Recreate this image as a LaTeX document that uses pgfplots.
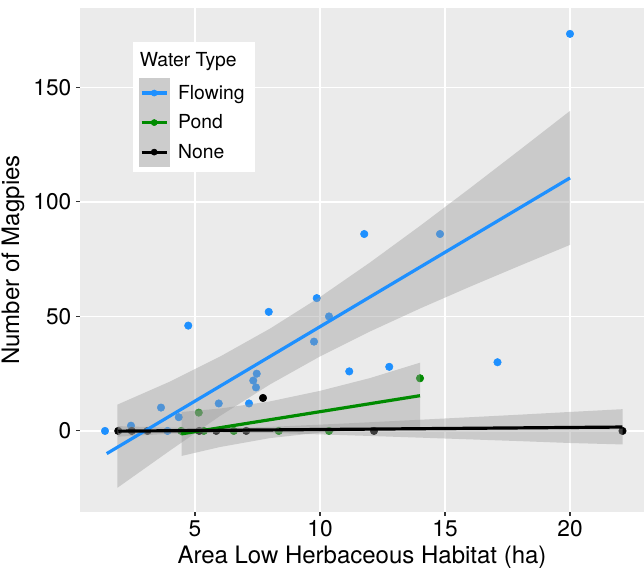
\documentclass[border=0pt]{standalone}
\usepackage{fontspec}
\setmainfont{TeX Gyre Heros}
\usepackage{pgfplots}
\pgfplotsset{compat=1.18}
\definecolor{panel}{RGB}{235,235,235}
\definecolor{flowblue}{RGB}{30,144,255}
\definecolor{pondgreen}{RGB}{0,139,0}
\definecolor{ribbon}{RGB}{153,153,153}
\definecolor{keygray}{RGB}{204,204,204}
\definecolor{tickgray}{RGB}{51,51,51}

\begin{document}
\begin{tikzpicture}
\useasboundingbox (0,0) rectangle (483pt,426pt);
\begin{axis}[
    at={(60pt,42pt)}, anchor=south west,
    scale only axis,
    width=423pt, height=378pt,
    xmin=0.4, xmax=22.96,
    ymin=-35.4, ymax=184.7,
    clip marker paths=true,
    axis background/.style={fill=panel},
    axis line style={draw=none},
    grid=major,
    major grid style={white, line width=1.1pt},
    xtick={5,10,15,20},
    ytick={0,50,100,150},
    tick pos=left,
    tick align=outside,
    major tick length=3pt,
    tick style={tickgray, line width=0.8pt},
    /pgf/number format/assume math mode=true,
    ticklabel style={font=\fontsize{17}{19}\selectfont},
    label style={font=\fontsize{18}{20}\selectfont},
    xlabel={Area Low Herbaceous Habitat (ha)},
    ylabel={Number of Magpies},
    legend style={at={(rel axis cs:0.094,0.9325)}, anchor=north west,
        draw=none, fill=white, inner xsep=4.5pt, inner ysep=4pt,
        row sep=0pt, column sep=6.75pt,
        nodes={inner sep=0pt},
        font=\fontsize{14.5}{16}\selectfont},
    legend cell align=left,
    legend image code/.code={
        \fill[keygray] (0pt,-10.875pt) rectangle (22pt,10.875pt);
        \draw[#1, line width=2.4pt] (1.5pt,0pt) -- (20.5pt,0pt);
        \fill[#1] (11pt,0pt) circle (2.3pt);
    },
]
% points
\addplot[only marks, mark=*, mark size=2.8pt, color=flowblue, forget plot] coordinates {
    (1.4,0) (2.44,2.3) (3.64,10.2) (3.9,0) (4.35,6) (4.73,46) (5.95,12)
    (7.16,12) (7.33,22) (7.44,19) (7.47,25) (7.95,52) (9.76,39) (9.87,58)
    (10.36,50) (11.17,26) (11.77,86) (12.77,28) (14.8,86) (17.1,30) (20,173.4)
};
\addplot[only marks, mark=*, mark size=2.8pt, color=pondgreen, forget plot] coordinates {
    (4.45,0) (5.15,8) (5.35,0) (6.55,0) (8.35,0) (10.36,0) (14,23)
};
\addplot[only marks, mark=*, mark size=2.8pt, color=black, forget plot] coordinates {
    (1.93,0) (2.47,0) (3.1,0) (5.17,0) (5.85,0) (7.05,0) (7.72,14.4) (12.16,0) (22.1,0)
};
% confidence ribbons
\addplot[fill=ribbon, fill opacity=0.4, draw=none, forget plot] coordinates {
    (1.9,11.5) (4,21.56) (6,32.46) (8,44.68) (10,58.46) (12,73.56) (14,89.53)
    (16,106) (18,122.8) (20,139.75)
    (20,81.25) (18,72.2) (16,63) (14,53.47) (12,43.44) (10,32.54) (8,20.32)
    (6,6.54) (4,-8.56) (1.9,-24.8)
} -- cycle;
\addplot[fill=ribbon, fill opacity=0.4, draw=none, forget plot] coordinates {
    (4.47,8.3) (6,9.78) (8,12.9) (10,17.5) (12,23.08) (14,29.8)
    (14,1.8) (12,0.72) (10,-0.72) (8,-3.12) (6,-7.02) (4.47,-10.9)
} -- cycle;
\addplot[fill=ribbon, fill opacity=0.4, draw=none, forget plot] coordinates {
    (1.93,2.1) (4,1.42) (6,1.19) (8,1.77) (10,2.74) (12,3.8) (14,4.89)
    (16,5.99) (18,7.11) (20,8.29) (22.1,9.5)
    (22.1,-5.9) (20,-5.27) (18,-4.45) (16,-3.69) (14,-2.93) (12,-2.2)
    (10,-1.5) (8,-0.89) (6,-0.67) (4,-1.24) (1.93,-2.5)
} -- cycle;
% fitted lines
\addplot[flowblue, line width=2.4pt, forget plot] coordinates {(1.47,-9.9) (20,110.5)};
\addplot[pondgreen, line width=2.4pt, forget plot] coordinates {(4.45,-1.3) (14,15.4)};
\addplot[black, line width=2.4pt, forget plot] coordinates {(1.93,-0.1) (22.1,1.7)};
% legend
\addlegendimage{empty legend}
\addlegendentry{\hspace*{-28.75pt}\raisebox{7.5pt}{Water Type\rule{0pt}{14pt}}}
\addlegendimage{color=flowblue}
\addlegendentry{Flowing\hspace*{3pt}}
\addlegendimage{color=pondgreen}
\addlegendentry{Pond}
\addlegendimage{color=black}
\addlegendentry{None}
\end{axis}
\end{tikzpicture}
\end{document}
